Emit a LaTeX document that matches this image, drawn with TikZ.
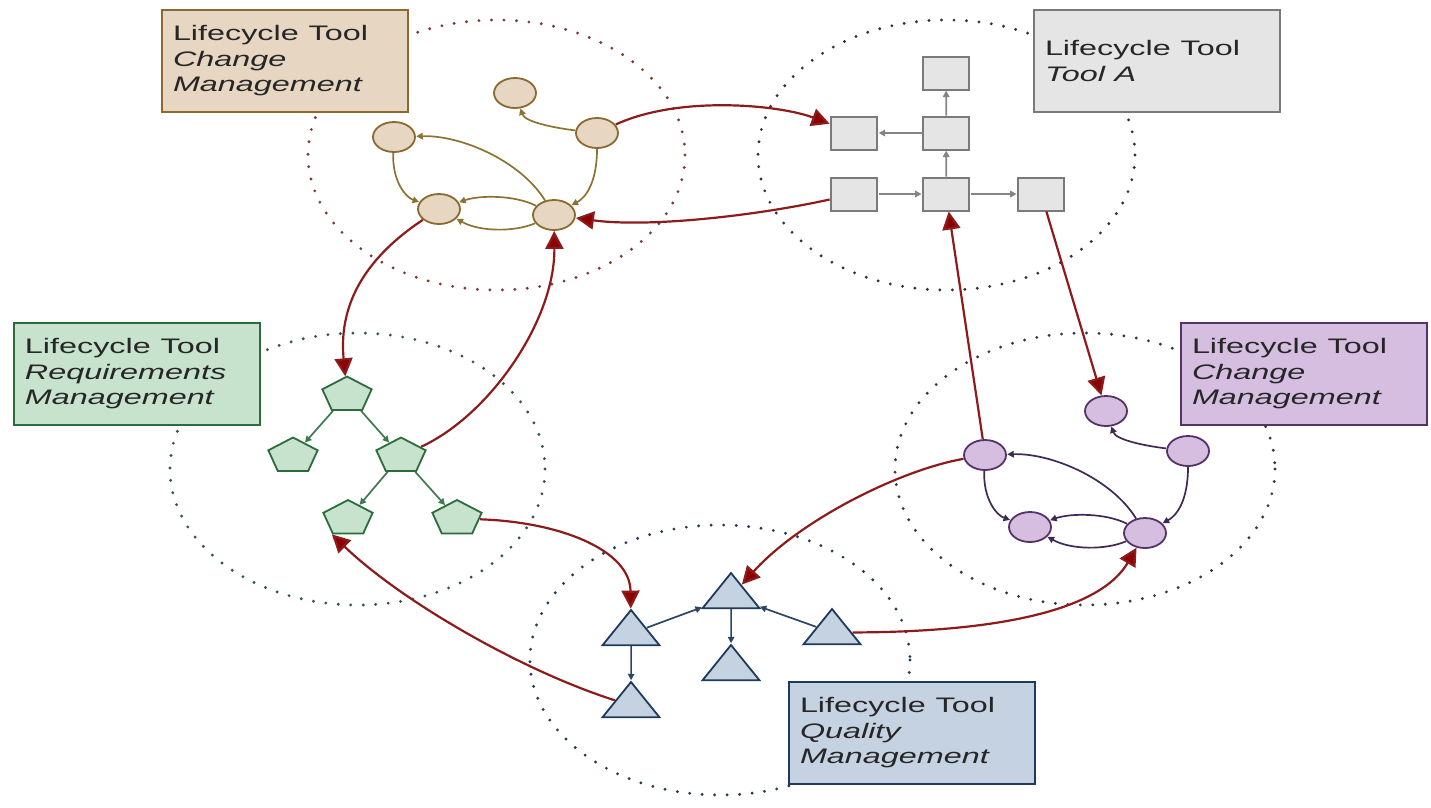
\documentclass[tikz,border=0pt]{standalone}
\usepackage{fontspec}
\newfontfamily\boxfont[FakeStretch=1.1]{Liberation Sans}
\usetikzlibrary{arrows.meta,shapes.geometric}

% palette
\definecolor{textgray}{HTML}{262626}
\definecolor{brownfill}{HTML}{E6D6C2}
\definecolor{brownline}{HTML}{8A6A2E}
\definecolor{brownedge}{HTML}{8C7233}
\definecolor{brownring}{HTML}{7B3B33}
\definecolor{grayfill}{HTML}{E5E5E5}
\definecolor{grayline}{HTML}{7A7A7A}
\definecolor{grayedge}{HTML}{858585}
\definecolor{grayring}{HTML}{333333}
\definecolor{greenfill}{HTML}{C7E3CE}
\definecolor{greenline}{HTML}{2C6B3C}
\definecolor{greenedge}{HTML}{3D7A4F}
\definecolor{greenring}{HTML}{2F5A3A}
\definecolor{purplefill}{HTML}{D6BEE0}
\definecolor{purpleline}{HTML}{553366}
\definecolor{purpleedge}{HTML}{3E2A55}
\definecolor{purplering}{HTML}{3E3346}
\definecolor{bluefill}{HTML}{C5D2E1}
\definecolor{blueline}{HTML}{1E3A5C}
\definecolor{blueedge}{HTML}{2C4662}
\definecolor{bluering}{HTML}{263A55}
\definecolor{jumpred}{HTML}{8E1B1B}
\definecolor{jumptip}{HTML}{8B0000}

\tikzset{
  ring/.style={line width=3.2pt, dash pattern=on 0pt off 12.5pt, line cap=round},
  toolbox/.style={rectangle, line width=2.6pt, minimum width=175.7pt, minimum height=102pt,
    text width=160pt, inner xsep=7.9pt, inner ysep=0pt, align=left,
    font=\boxfont\fontsize{21}{25.5}\selectfont, text=textgray},
  ball/.style={circle, minimum size=30pt, inner sep=0pt, line width=1.8pt},
  tile/.style={rectangle, minimum size=33pt, inner sep=0pt, line width=2pt,
    fill=grayfill, draw=grayline},
  pent/.style={regular polygon, regular polygon sides=5, minimum size=37pt, inner sep=0pt,
    line width=1.8pt, fill=greenfill, draw=greenline},
  tri/.style={regular polygon, regular polygon sides=3, minimum size=47pt, inner sep=0pt,
    line width=1.8pt, fill=bluefill, draw=blueline},
  link/.style={line width=1.7pt, -{Triangle[length=6.5pt,width=6.5pt]}},
  jump/.style={draw=jumpred, line width=2.2pt, -{Triangle[length=18pt,width=18pt,fill=jumptip]}},
  brownset/.style={cycnode/.style={ball, fill=brownfill, draw=brownline},
    cycedge/.style={link, draw=brownedge}},
  purpleset/.style={cycnode/.style={ball, fill=purplefill, draw=purpleline},
    cycedge/.style={link, draw=purpleedge}},
  % five states with a small cycle of transitions
  cyc/.pic={
    \node[cycnode] (-1) at (121,-44) {};
    \node[cycnode] (-2) at (203,-4) {};
    \node[cycnode] (-3) at (0,0) {};
    \node[cycnode] (-4) at (45,72) {};
    \node[cycnode] (-5) at (160,78) {};
    \draw[cycedge] (-2) .. controls (161,-9) and (131,-15) .. (-1);
    \draw[cycedge] (-2) .. controls (203,38) and (196,58) .. (-5);
    \draw[cycedge] (-3) .. controls (-2,43) and (11,60) .. (-4);
    \draw[cycedge] (-5) .. controls (126,23) and (66,-2) .. (-3);
    \draw[cycedge] (-5) .. controls (121,58) and (86,58) .. (-4);
    \draw[cycedge] (-5) .. controls (121,95) and (86,95) .. (-4);
  }
}

\begin{document}
\begin{tikzpicture}[x=0.714286pt, y=-1pt, xscale=1.4,
  every node/.append style={transform shape}]
\useasboundingbox (0,0) rectangle (1431,807);

% tool domains
\draw[ring, draw=brownring]  (496.5,155) ellipse [x radius=188.5, y radius=135];
\draw[ring, draw=grayring]   (946.5,155) ellipse [x radius=188.5, y radius=135];
\draw[ring, draw=greenring]  (357.5,469) ellipse [x radius=187.5, y radius=136];
\draw[ring, draw=purplering] (1085,469) ellipse [x radius=190, y radius=136];
\draw[ring, draw=bluering]   (720,660) ellipse [x radius=190, y radius=135];

% tool labels
\node[toolbox, fill=brownfill, draw=brownline] (lb) at (285,61)
  {Lifecycle Tool\\\textit{Change}\\\textit{Management}};
\node[toolbox, fill=grayfill, draw=grayline] (lg) at (1157,61)
  {Lifecycle Tool\\\textit{Tool A}};
\node[toolbox, fill=greenfill, draw=greenline] (lr) at (137,374)
  {Lifecycle Tool\\\textit{Requirements}\\\textit{Management}};
\node[toolbox, fill=purplefill, draw=purpleline] (lp) at (1304,374)
  {Lifecycle Tool\\\textit{Change}\\\textit{Management}};
\node[toolbox, fill=bluefill, draw=blueline] (lq) at (912,733)
  {Lifecycle Tool\\\textit{Quality}\\\textit{Management}};

% change management (two instances)
\pic[brownset] (b) at (394,137) {cyc};
\pic[purpleset] (q) at (985,455) {cyc};

% tool A
\node[tile] (g-1) at (946,73) {};
\node[tile] (g-2) at (854,133) {};
\node[tile] (g-3) at (946,133) {};
\node[tile] (g-4) at (854,194) {};
\node[tile] (g-5) at (946,194) {};
\node[tile] (g-6) at (1041,194) {};
\draw[link, draw=grayedge] (g-3) -- (g-1);
\draw[link, draw=grayedge] (g-3) -- (g-2);
\draw[link, draw=grayedge] (g-5) -- (g-3);
\draw[link, draw=grayedge] (g-4) -- (g-5);
\draw[link, draw=grayedge] (g-5) -- (g-6);

% requirements tree
\node[pent] (p-1) at (347,395) {};
\node[pent] (p-2) at (293,456) {};
\node[pent] (p-3) at (401,456) {};
\node[pent] (p-4) at (348,518.5) {};
\node[pent] (p-5) at (457,518.5) {};
\draw[link, draw=greenedge] (p-1) -- (p-2);
\draw[link, draw=greenedge] (p-1) -- (p-3);
\draw[link, draw=greenedge] (p-3) -- (p-4);
\draw[link, draw=greenedge] (p-3) -- (p-5);

% quality items
\node[tri] (t-1) at (631,633.5) {};
\node[tri] (t-2) at (731,596.5) {};
\node[tri] (t-3) at (731,668.5) {};
\node[tri] (t-4) at (832,632.5) {};
\node[tri] (t-5) at (631,705.5) {};
\draw[link, draw=blueedge] (t-1) -- (t-2);
\draw[link, draw=blueedge] (t-4) -- (t-2);
\draw[link, draw=blueedge] (t-2) -- (t-3);
\draw[link, draw=blueedge] (t-1) -- (t-5);

% cross-tool links
\draw[jump] (b-2) .. controls (680,95) and (780,105) .. (g-2);
\draw[jump] (g-4) .. controls (760,215) and (650,228) .. (b-5);
\draw[jump] (b-4) .. controls (370,255) and (338,300) .. (p-1);
\draw[jump] (p-3) .. controls (490,415) and (555,320) .. (b-5);
\draw[jump] (p-5) .. controls (560,522) and (630,550) .. (t-1);
\draw[jump] (t-5) .. controls (520,670) and (400,600) .. (p-4.corner 3);
\draw[jump] (t-4) .. controls (1000,632) and (1100,610) .. (q-5);
\draw[jump] (q-3) .. controls (900,470) and (800,520) .. (t-2);
\draw[jump] (q-3) -- (g-5);
\draw[jump] (g-6) -- (q-1);
\end{tikzpicture}
\end{document}
